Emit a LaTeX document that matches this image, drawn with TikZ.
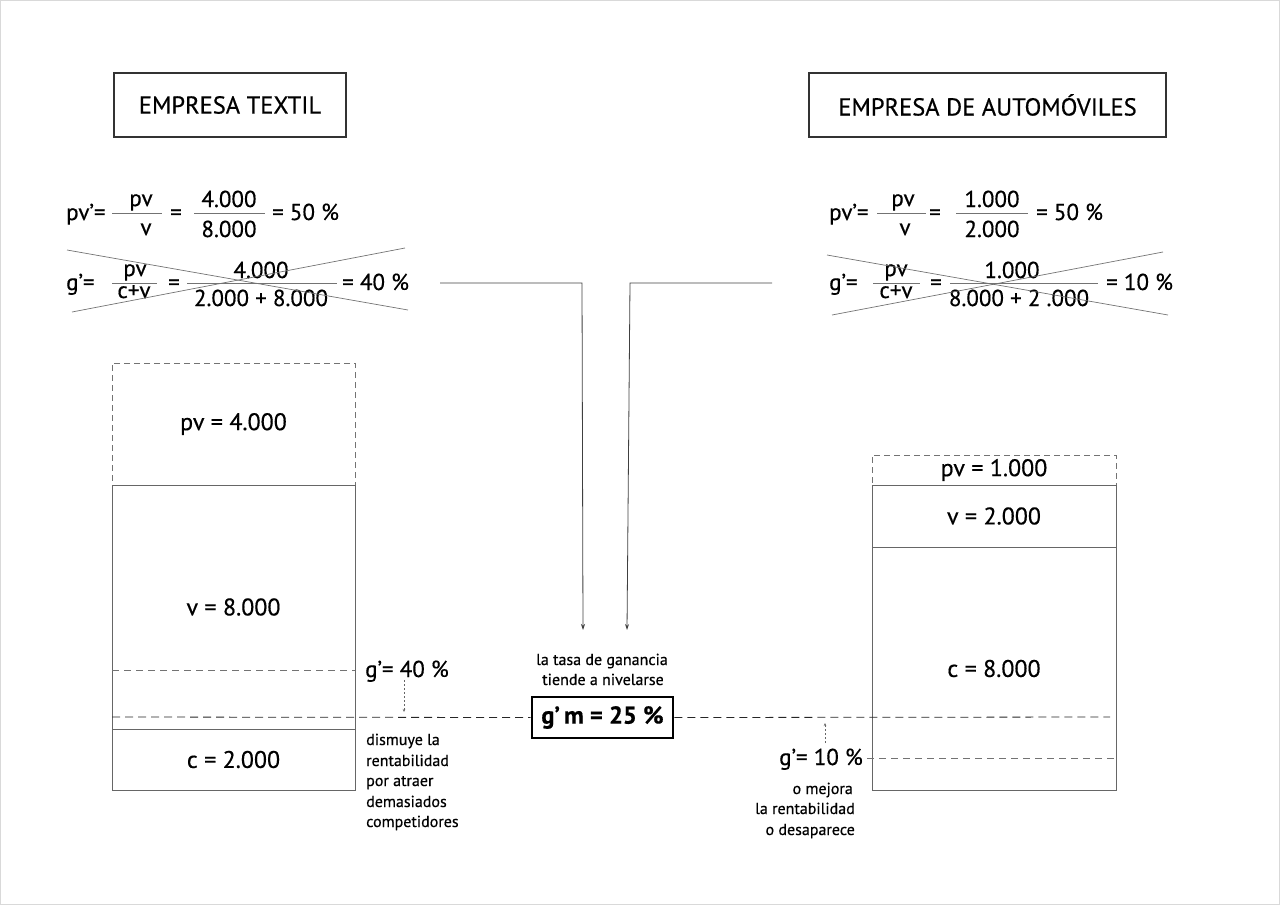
\documentclass[tikz,border=0pt]{standalone}
\usepackage{fontspec}
\setmainfont{PT Sans}[FakeBold=0.5]
\usetikzlibrary{arrows.meta}
\newcommand\fsz[1]{\fontsize{#1}{#1}\selectfont}
\begin{document}
\begin{tikzpicture}[x=1pt,y=-1pt,
  titlebox/.style={draw=black!80, line width=1.1pt, inner sep=0pt, font=\fsz{24.5}},
  ftxt/.style={inner sep=0pt, font=\fsz{23}},
  small/.style={inner sep=0pt, font=\fsz{16}},
  fbar/.style={draw=black!55, line width=0.7pt},
  cross/.style={draw=black!55, line width=0.7pt},
  solidbox/.style={draw=black!60, line width=0.9pt, inner sep=0pt, font=\fsz{24}},
  dashbox/.style={draw=black!55, line width=0.8pt, dash pattern=on 6pt off 4pt, inner sep=0pt, font=\fsz{24}},
  levelline/.style={draw=black!55, line width=0.7pt, dash pattern=on 7pt off 5pt},
  mainline/.style={draw=black!85, line width=0.8pt, dash pattern=on 8pt off 5pt},
  smallarrow/.style={draw=black!60, line width=0.6pt, dash pattern=on 2pt off 2pt, -{Stealth[length=3pt,width=2.5pt]}},
  flow/.style={draw=black!75, line width=0.8pt, -{Stealth[length=6pt,width=4pt]}},
  gmbox/.style={draw=black, line width=2.6pt, inner sep=0pt, font=\fsz{24.5}\bfseries, fill=white}
]
\useasboundingbox (0,0) rectangle (1280,905);
\draw[black!15, line width=1pt] (0.5,0.5) rectangle (1279.5,904.5);

% titles
\node[titlebox, minimum width=232pt, minimum height=64pt] (t1) at (230,105) {EMPRESA TEXTIL};
\node[titlebox, minimum width=357pt, minimum height=64pt] (t2) at (987.5,105) {EMPRESA DE AUTOMÓVILES};

% ---------- left formulas ----------
\node[ftxt, anchor=base west] (l1a) at (66,220) {pv’=};
\node[ftxt, anchor=base] (l1n1) at (141,206) {pv};
\draw[fbar] (112,213) -- (162,213);
\node[ftxt, anchor=base] (l1d1) at (146,235) {v};
\node[ftxt, anchor=base] (l1e) at (176,220) {=};
\node[ftxt, anchor=base] (l1n2) at (229,207) {4.000};
\draw[fbar] (194,213) -- (265,213);
\node[ftxt, anchor=base] (l1d2) at (229,237) {8.000};
\node[ftxt, anchor=base west] (l1r) at (272,220) {= 50 \%};

\node[ftxt, anchor=base west] (l2a) at (66,290) {g’=};
\node[ftxt, anchor=base] (l2n1) at (135,276) {pv};
\draw[fbar] (112,283) -- (157,283);
\node[ftxt, anchor=base] (l2d1) at (134,298) {c+v};
\node[ftxt, anchor=base] (l2e) at (174,290) {=};
\node[ftxt, anchor=base] (l2n2) at (261,278) {4.000};
\draw[fbar] (187,283) -- (337,283);
\node[ftxt, anchor=base] (l2d2) at (261,306) {2.000 + 8.000};
\node[ftxt, anchor=base west] (l2r) at (342,290) {= 40 \%};
\draw[cross] (67,250) -- (408,310);
\draw[cross] (72,312) -- (405,248);

% ---------- right formulas ----------
\node[ftxt, anchor=base west] (r1a) at (829,220) {pv’=};
\node[ftxt, anchor=base] (r1n1) at (903,206) {pv};
\draw[fbar] (877,213) -- (926,213);
\node[ftxt, anchor=base] (r1d1) at (905,235) {v};
\node[ftxt, anchor=base] (r1e) at (935,220) {=};
\node[ftxt, anchor=base] (r1n2) at (992,207) {1.000};
\draw[fbar] (956,213) -- (1028,213);
\node[ftxt, anchor=base] (r1d2) at (992,237) {2.000};
\node[ftxt, anchor=base west] (r1r) at (1036,220) {= 50 \%};

\node[ftxt, anchor=base west] (r2a) at (829,290) {g’=};
\node[ftxt, anchor=base] (r2n1) at (896,276) {pv};
\draw[fbar] (873,283) -- (920,283);
\node[ftxt, anchor=base] (r2d1) at (896,298) {c+v};
\node[ftxt, anchor=base] (r2e) at (936,290) {=};
\node[ftxt, anchor=base] (r2n2) at (1012,278) {1.000};
\draw[fbar] (950,283) -- (1098,283);
\node[ftxt, anchor=base] (r2d2) at (1019,306) {8.000 + 2 .000};
\node[ftxt, anchor=base west] (r2r) at (1106,290) {= 10 \%};
\draw[cross] (827,255) -- (1168,315);
\draw[cross] (832,315) -- (1163,252);

% ---------- left bars ----------
\node[dashbox, minimum width=243pt, minimum height=122pt] (pvL) at (233.5,424) {pv = 4.000};
\node[solidbox, minimum width=243pt, minimum height=244pt] (vL) at (233.5,607) {v = 8.000};
\node[solidbox, minimum width=243pt, minimum height=61pt] (cL) at (233.5,759.5) {c = 2.000};
\draw[levelline] (112,670) -- (355,670);
\node[ftxt, anchor=base west] (gL) at (365,677) {g’= 40 \%};
\coordinate (gLa) at (404,680);
\coordinate (gLb) at (404,712);
\draw[smallarrow] (gLa) -- (gLb);
\node[small, anchor=base west] (d1) at (366,745) {dismuye la};
\node[small, anchor=base west] (d2) at (366,766) {rentabilidad};
\node[small, anchor=base west] (d3) at (366,786) {por atraer};
\node[small, anchor=base west] (d4) at (366,807) {demasiados};
\node[small, anchor=base west] (d5) at (366,827) {competidores};

% ---------- right bars ----------
\node[dashbox, minimum width=244pt, minimum height=30pt] (pvR) at (994,470) {pv = 1.000};
\node[solidbox, minimum width=244pt, minimum height=62pt] (vR) at (994,516) {v = 2.000};
\node[solidbox, minimum width=244pt, minimum height=243pt] (cR) at (994,668.5) {c = 8.000};
\draw[levelline] (867,758) -- (1116,758);
\node[ftxt, anchor=base east] (gR) at (863,765) {g’= 10 \%};
\coordinate (gRa) at (825,743);
\coordinate (gRb) at (825,723);
\draw[smallarrow] (gRa) -- (gRb);
\node[small, anchor=base east] (m1) at (853,794) {o mejora};
\node[small, anchor=base east] (m2) at (855,814) {la rentabilidad};
\node[small, anchor=base east] (m3) at (855,835) {o desaparece};

% ---------- centre ----------
\node[small, anchor=base] (c1) at (602,665) {la tasa de ganancia};
\node[small, anchor=base] (c2) at (603,685) {tiende a nivelarse};
\node[gmbox, minimum width=141pt, minimum height=41pt] (gm) at (602.5,717.5) {g’\,m = 25 \%};
\coordinate (mlL) at (112,717);
\coordinate (mlR) at (1110,717);
\draw[mainline] (mlL) -- (gm.west);
\draw[mainline] (gm.east) -- (mlR);

% flows
\coordinate (fL) at (440,283);
\coordinate (fLd) at (583,630);
\coordinate (fR) at (772,283);
\coordinate (fRd) at (627,630);
\draw[flow] (fL) -- (582,283) -- (fLd);
\draw[flow] (fR) -- (630,283) -- (fRd);
\end{tikzpicture}
\end{document}
